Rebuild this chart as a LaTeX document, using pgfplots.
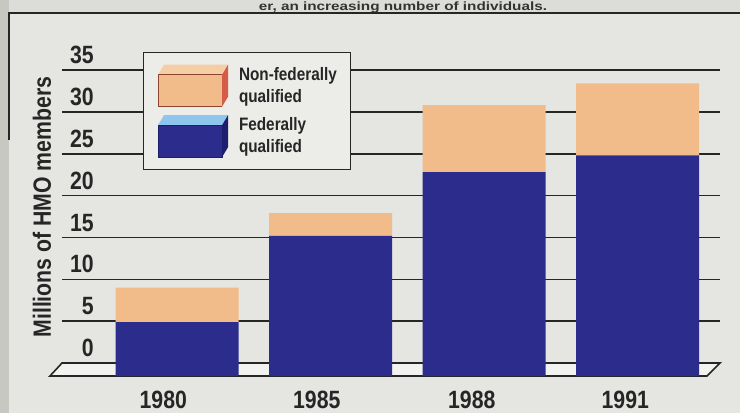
\documentclass[border=0pt]{standalone}
\usepackage{fontspec}
\setmainfont{Liberation Sans}
\newfontfamily\cond{Liberation Sans}[FakeStretch=0.85]
\usepackage{graphicx}
\usepackage{pgfplots}
\pgfplotsset{compat=1.18}
\usepackage{pgfplotstable}
\definecolor{bg}{RGB}{229,229,226}
\definecolor{edgecol}{RGB}{200,200,195}
\definecolor{topcol}{RGB}{220,220,216}
\definecolor{legbg}{RGB}{236,236,233}
\definecolor{fedblue}{RGB}{44,44,140}
\definecolor{fedtop}{RGB}{143,198,238}
\definecolor{fedside}{RGB}{30,30,110}
\definecolor{nforange}{RGB}{242,188,138}
\definecolor{nftop}{RGB}{246,206,165}
\definecolor{nfside}{RGB}{214,92,72}
\definecolor{nfline}{RGB}{140,70,48}
\definecolor{floorcol}{RGB}{242,242,240}

\pgfplotstableread{
x base fed nonfed
0 1.55 4.9 4.1
1 1.55 15.2 2.7
2 1.55 22.8 8.0
3 1.55 24.8 8.6
}\hmo

\newcommand{\nficon}{%
  \fill[fill=nforange, draw=none] (0bp,-21bp) rectangle (64bp,11bp);
  \fill[fill=nftop, draw=none] (0bp,11bp) -- (6bp,21bp) -- (70bp,21bp) -- (64bp,11bp) -- cycle;
  \fill[fill=nfside, draw=none] (64bp,-21bp) -- (70bp,-11bp) -- (70bp,21bp) -- (64bp,11bp) -- cycle;
  \path[draw=nfline, fill=none, line width=0.8bp] (64bp,11bp) -- (0bp,11bp) -- (0bp,-21bp) -- (64bp,-21bp);
}
\newcommand{\fedicon}{%
  \fill[fill=fedblue, draw=none] (0bp,-21bp) rectangle (64bp,11bp);
  \fill[fill=fedtop, draw=none] (0bp,11bp) -- (6bp,21bp) -- (70bp,21bp) -- (64bp,11bp) -- cycle;
  \fill[fill=fedside, draw=none] (64bp,-21bp) -- (70bp,-11bp) -- (70bp,21bp) -- (64bp,11bp) -- cycle;
  \path[draw=fedside, fill=none, line width=0.8bp] (0bp,-21bp) rectangle (64bp,11bp);
}

\begin{document}
\begin{tikzpicture}
\useasboundingbox (0,0) rectangle (740bp,413bp);
\clip (0,0) rectangle (740bp,413bp);
\fill[bg] (0,0) rectangle (740bp,413bp);
\fill[edgecol] (0,0) rectangle (9bp,413bp);
\fill[topcol] (9bp,400bp) rectangle (740bp,413bp);
\node[anchor=base, inner sep=0pt, text=black!80] at (403bp,402.5bp) {\scalebox{1.5}[1]{\cond\bfseries\fontsize{12bp}{12bp}\selectfont er, an increasing number of individuals.}};
\draw[line width=2bp, black!85] (9bp,273bp) -- (9bp,400bp) -- (740bp,400bp);
% floor
\filldraw[fill=floorcol, draw=black!85, line width=1.6bp]
  (62bp,50bp) -- (720bp,50bp) -- (707bp,37bp) -- (50bp,37bp) -- cycle;
\begin{axis}[
  at={(62bp,37bp)}, anchor=south west,
  scale only axis, width=658bp, height=309.7bp,
  xmin=-0.75, xmax=3.537, ymin=0, ymax=37,
  enlargelimits=false, clip=false,
  ybar stacked, bar width=123bp,
  axis line style={draw=none},
  major tick length=0pt,
  /pgf/number format/assume math mode=true,
  ytick={1.55,6.55,11.55,16.55,21.55,26.55,31.55,36.55},
  yticklabels={0,5,10,15,20,25,30,35},
  ymajorgrids,
  major grid style={line width=1.6bp, color=black!85},
  xtick={-0.09,0.91,1.92,2.92},
  xticklabels={1980,1985,1988,1991},
  ticklabel style={font=\cond\bfseries\fontsize{25bp}{25bp}\selectfont, inner sep=0pt, text=black!85},
  yticklabel style={anchor=south east, xshift=32bp, yshift=6bp},
  xticklabel style={anchor=center, yshift=-24bp},
  ylabel={Millions of HMO members},
  ylabel style={at={(axis description cs:-0.0304,0.5457)}, anchor=center, inner sep=0pt,
    font=\cond\bfseries\fontsize{25bp}{25bp}\selectfont, text=black!85},
  legend style={at={(0.1231,1.046)}, anchor=north west, fill=legbg, draw=black!85,
    line width=1.3bp, inner xsep=14bp, inner ysep=12bp, row sep=8bp,
    nodes={inner sep=0pt, align=left, text=black!85,
      font=\cond\bfseries\fontsize{18bp}{22bp}\selectfont},
    /tikz/every odd column/.append style={column sep=11bp}},
  legend cell align=left,
  reverse legend,
]
\addplot[fill=fedblue, draw=none, forget plot] table[x=x, y=base] {\hmo};
\addplot[fill=fedblue, draw=none, legend image code/.code={\fedicon}] table[x=x, y=fed] {\hmo};
\addplot[fill=nforange, draw=none, legend image code/.code={\nficon}] table[x=x, y=nonfed] {\hmo};
\legend{Federally\\qualified, Non-federally\\qualified}
\end{axis}
\end{tikzpicture}
\end{document}
